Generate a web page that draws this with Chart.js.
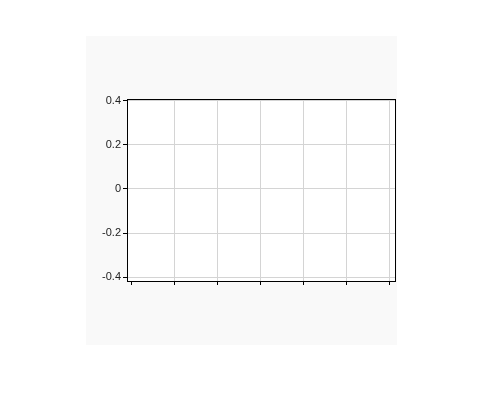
<!DOCTYPE html>
<html>
<head>
<meta charset="utf-8">
<script src="https://cdn.jsdelivr.net/npm/chart.js@4/dist/chart.umd.min.js"></script>
<style>
html,body{margin:0;padding:0;background:#fff;}
#wrap{position:absolute;left:86px;top:36px;width:311px;height:309px;background:#f9f9f9;}
canvas{display:block;}
</style>
</head>
<body>
<div id="wrap"><canvas id="c" width="311" height="309"></canvas></div>
<script>
// Data (the reference chart is empty: no marks are plotted)
const xTickValues = [0, 1, 2, 3, 4, 5, 6];
const xTickLabels = ['', '', '', '', '', '', ''];
const yTickValues = [-0.4, -0.2, 0, 0.2, 0.4];
const yTickLabels = ['-0.4', '-0.2', '0', '0.2', '0.4'];
const seriesX = [];
const seriesY = [];

const frame = {
  id: 'frame',
  beforeDraw(chart) {
    const {ctx, chartArea: a} = chart;
    ctx.save();
    ctx.fillStyle = '#ffffff';
    ctx.fillRect(a.left, a.top, a.right - a.left, a.bottom - a.top);
    ctx.restore();
  },
  afterDraw(chart) {
    const {ctx, chartArea: a} = chart;
    ctx.save();
    ctx.strokeStyle = '#000';
    ctx.lineWidth = 1;
    ctx.strokeRect(Math.round(a.left) + 0.5, Math.round(a.top) + 0.5,
                   Math.round(a.right - a.left), Math.round(a.bottom - a.top));
    ctx.restore();
  }
};

new Chart(document.getElementById('c'), {
  type: 'scatter',
  data: {
    datasets: [{
      data: seriesX.map((x, i) => ({x: x, y: seriesY[i]})),
      showLine: true
    }]
  },
  options: {
    responsive: false,
    animation: false,
    devicePixelRatio: 1,
    layout: {padding: {left: 0, top: 63, right: 2, bottom: 54}},
    plugins: {legend: {display: false}, tooltip: {enabled: false}},
    scales: {
      x: {
        type: 'linear',
        min: -0.093,
        max: 6.133,
        afterBuildTicks: s => { s.ticks = xTickValues.map(v => ({value: v})); },
        afterFit: s => { s.height = 10; },
        border: {display: false},
        grid: {
          color: c => (c.index === 0 ? 'rgba(0,0,0,0)' : '#d4d4d4'),
          lineWidth: 1,
          tickColor: '#000',
          tickLength: 4,
          drawTicks: true
        },
        ticks: {
          callback: (v, i) => xTickLabels[i] ?? '',
          display: true,
          font: {family: 'Liberation Sans', size: 11}
        }
      },
      y: {
        type: 'linear',
        min: -0.4168,
        max: 0.4077,
        afterBuildTicks: s => { s.ticks = yTickValues.map(v => ({value: v})); },
        afterFit: s => { s.width = 41; },
        border: {display: false},
        grid: {
          color: '#d4d4d4',
          lineWidth: 1,
          tickColor: '#000',
          tickLength: 4
        },
        ticks: {
          callback: (v, i) => yTickLabels[i],
          color: '#222',
          padding: 2,
          font: {family: 'Liberation Sans', size: 11}
        }
      }
    }
  },
  plugins: [frame]
});
</script>
</body>
</html>
